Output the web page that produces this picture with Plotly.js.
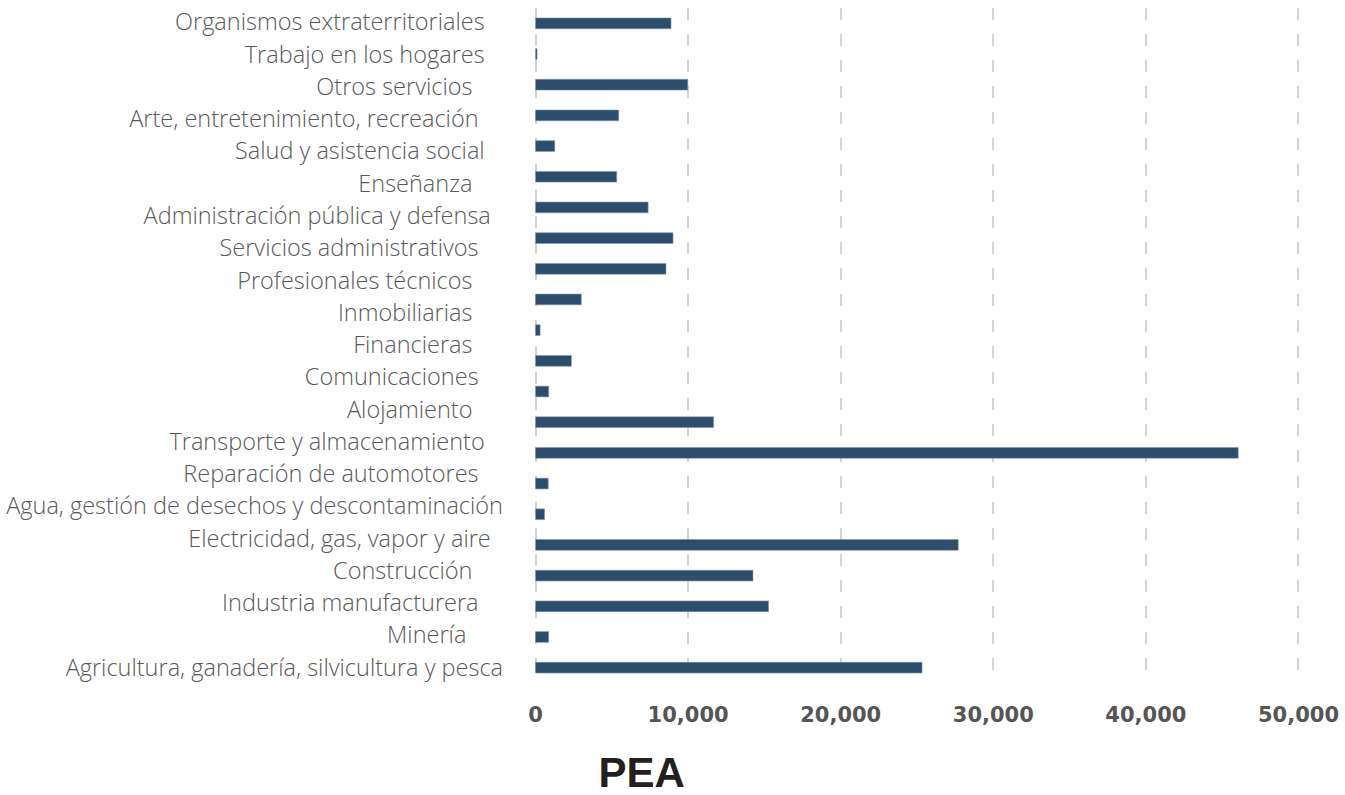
<!DOCTYPE html>
<html>
<head>
<meta charset="utf-8">
<script src="https://cdn.plot.ly/plotly-3.0.1.min.js"></script>
<style>html,body{margin:0;padding:0;background:#fff;}#chart{width:1345px;height:795px;}</style>
</head>
<body>
<div id="chart"></div>
<script>
// Category labels, top to bottom (21 labels as printed; trailing spaces as in the source)
const categorias = [
  "Organismos extraterritoriales\u00a0\u00a0\u00a0",
  "Trabajo en los hogares\u00a0\u00a0\u00a0",
  "Otros servicios\u00a0\u00a0\u00a0\u00a0\u00a0",
  "Arte, entretenimiento, recreación\u00a0\u00a0\u00a0\u00a0",
  "Salud y asistencia social\u00a0\u00a0\u00a0",
  "Enseñanza\u00a0\u00a0\u00a0\u00a0\u00a0",
  "Administración pública y defensa\u00a0\u00a0",
  "Servicios administrativos\u00a0\u00a0\u00a0\u00a0",
  "Profesionales técnicos\u00a0\u00a0\u00a0\u00a0\u00a0",
  "Inmobiliarias\u00a0\u00a0\u00a0\u00a0\u00a0",
  "Financieras\u00a0\u00a0\u00a0\u00a0\u00a0",
  "Comunicaciones\u00a0\u00a0\u00a0\u00a0",
  "Alojamiento\u00a0\u00a0\u00a0\u00a0\u00a0",
  "Transporte y almacenamiento\u00a0\u00a0\u00a0",
  "Reparación de automotores\u00a0\u00a0\u00a0\u00a0",
  "Agua, gestión de desechos y descontaminación",
  "Electricidad, gas, vapor y aire\u00a0\u00a0",
  "Construcción\u00a0\u00a0\u00a0\u00a0\u00a0",
  "Industria manufacturera\u00a0\u00a0\u00a0\u00a0",
  "Minería\u00a0\u00a0\u00a0\u00a0\u00a0\u00a0",
  "Agricultura, ganadería, silvicultura y pesca"
];
// Bar values, top to bottom (22 bars as drawn)
const valores = [8880, 100, 9980, 5450, 1260, 5320, 7380, 9010, 8550, 3000, 300, 2350, 860,
                 11670, 46050, 830, 590, 27700, 14250, 15270, 860, 25330];
const barPos = valores.map((v, i) => i);
const tickVals = [0, 10000, 20000, 30000, 40000, 50000];
const tickText = ["0", "10,000", "20,000", "30,000", "40,000", "50,000"];
const titulo = "PEA";

const traces = [
  {
    type: "bar", orientation: "h",
    x: valores, y: barPos,
    width: 0.35,
    marker: {color: "#2c4d6b", line: {color: "#7f95ab", width: 0.6}},
    hoverinfo: "x", showlegend: false,
    xaxis: "x", yaxis: "y"
  },
  {
    type: "scatter", mode: "markers",
    x: categorias.map(() => 0), y: categorias,
    marker: {opacity: 0, size: 1},
    hoverinfo: "skip", showlegend: false,
    xaxis: "x", yaxis: "y2"
  }
];

const layout = {
  width: 1345, height: 795,
  margin: {l: 533.5, r: 44.5, t: 8, b: 112, autoexpand: false},
  paper_bgcolor: "#ffffff", plot_bgcolor: "#ffffff",
  title: {
    text: titulo,
    font: {family: "Liberation Sans, Arial, sans-serif", size: 42, color: "#231f20", weight: 700},
    x: 0.477, xanchor: "center", xref: "container",
    y: 0.028, yanchor: "middle", yref: "container"
  },
  xaxis: {
    range: [-100, 50100],
    tickvals: tickVals, ticktext: tickText,
    showgrid: true, gridcolor: "#d4d4d4", gridwidth: 2, griddash: "12px,14px",
    zeroline: false, showline: false, ticks: "",
    tickfont: {family: "DejaVu Sans, sans-serif", size: 21, color: "#555555", weight: 700},
    ticklabelstandoff: 17,
    fixedrange: true
  },
  yaxis: {
    range: [21.5, -0.5],
    showticklabels: false, showgrid: false, zeroline: false, showline: false, ticks: "",
    fixedrange: true
  },
  yaxis2: {
    overlaying: "y", side: "left", anchor: "x",
    type: "category", categoryorder: "array", categoryarray: categorias.slice().reverse(),
    range: [-0.48, 20.44],
    showgrid: false, zeroline: false, showline: false, ticks: "",
    tickfont: {family: "Open Sans, sans-serif", size: 23.5, color: "#595959", weight: 300},
    ticklabelstandoff: 30,
    fixedrange: true
  }
};

Plotly.newPlot("chart", traces, layout, {displayModeBar: false, staticPlot: true});
</script>
</body>
</html>
